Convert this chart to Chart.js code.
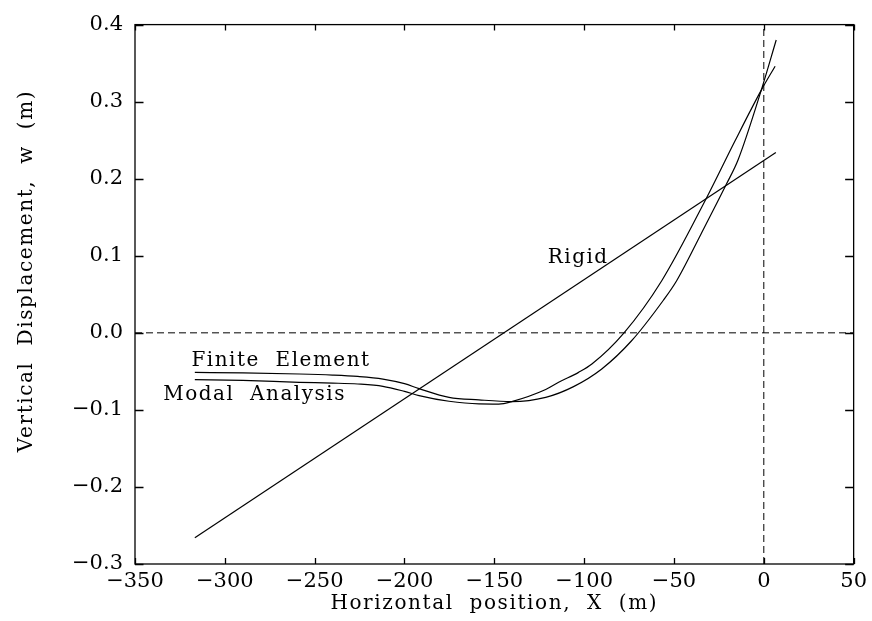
<!DOCTYPE html>
<html>
<head>
<meta charset="utf-8">
<script src="https://cdn.jsdelivr.net/npm/chart.js@4/dist/chart.umd.min.js"></script>
<style>
  html, body { margin: 0; padding: 0; background: #fff; }
  #wrap { width: 872px; height: 621px; position: relative; }
</style>
</head>
<body>
<div id="wrap"><canvas id="c"></canvas></div>
<script>
// ---- Data ----
const feX = [-316.7, -290, -258.5, -240, -226, -212, -200, -191.9, -175.2, -158.6, -140.3, -121.4, -105.9, -90.2, -73.6, -55.9, -48.6, -35, -20.8, -14.3, -1.4, 6.9];
const feY = [-0.0513, -0.0520, -0.0534, -0.0548, -0.0566, -0.0600, -0.0660, -0.0724, -0.0837, -0.0870, -0.0892, -0.0837, -0.0698, -0.0469, -0.0103, 0.0423, 0.0673, 0.128, 0.193, 0.2246, 0.315, 0.380];

const modalX = [-316.7, -290, -258.5, -240, -226, -212, -200, -191.9, -175.2, -158.6, -147.5, -140.3, -121.4, -114.2, -103.1, -95.7, -77.8, -56.9, -31.9, -16.2, -1.4, 6.3];
const modalY = [-0.0608, -0.0618, -0.0642, -0.0652, -0.0664, -0.0694, -0.0760, -0.0814, -0.0888, -0.0922, -0.0924, -0.0892, -0.0735, -0.0642, -0.0513, -0.0405, 0.0, 0.0673, 0.175, 0.2483, 0.315, 0.346];

const rigidX = [-316.7, 6.7];
const rigidY = [-0.266, 0.234];

const zeroLineX = [-350, 50];
const zeroLineY = [0, 0];
const originLineX = [0, 0];
const originLineY = [-0.3, 0.4];

const xTicks = [-350, -300, -250, -200, -150, -100, -50, 0, 50];
const yTicks = [-0.3, -0.2, -0.1, 0.0, 0.1, 0.2, 0.3, 0.4];

const labelTexts = ['Finite  Element', 'Modal  Analysis', 'Rigid'];
const labelX = [-318.6, -334.3, -120.3];
const labelY = [-0.0427, -0.0866, 0.0905];

const xTitle = 'Horizontal  position,  X  (m)';
const yTitle = 'Vertical  Displacement,  w  (m)';

function pts(xs, ys) { return xs.map((x, i) => ({ x: x, y: ys[i] })); }
function fmtX(v) { return v < 0 ? '\u2212' + Math.abs(v) : String(v); }
function fmtY(v) {
  if (Math.abs(v) < 1e-9) return '0.0';
  return v < 0 ? '\u2212' + Math.abs(v).toFixed(1) : v.toFixed(1);
}

const FONT = '"DejaVu Serif", "Liberation Serif", serif';

const framePlugin = {
  id: 'frame',
  afterDraw(chart) {
    const ctx = chart.ctx;
    const a = chart.chartArea;
    const xs = chart.scales.x, ys = chart.scales.y;
    ctx.save();
    ctx.strokeStyle = '#000';
    ctx.lineWidth = 1.3;
    ctx.strokeRect(a.left, a.top, a.right - a.left, a.bottom - a.top);
    // inward ticks on all four sides
    ctx.beginPath();
    xTicks.forEach(v => {
      const px = Math.round(xs.getPixelForValue(v)) + 0.5;
      ctx.moveTo(px, a.bottom); ctx.lineTo(px, a.bottom - 6);
      ctx.moveTo(px, a.top); ctx.lineTo(px, a.top + 6);
    });
    yTicks.forEach(v => {
      const py = Math.round(ys.getPixelForValue(v)) + 0.5;
      ctx.moveTo(a.left, py); ctx.lineTo(a.left + 8.5, py);
      ctx.moveTo(a.right, py); ctx.lineTo(a.right - 8.5, py);
    });
    ctx.stroke();

    // in-plot labels
    ctx.fillStyle = '#000';
    ctx.font = '20px ' + FONT;
    ctx.letterSpacing = '1.5px';
    ctx.textAlign = 'left';
    ctx.textBaseline = 'alphabetic';
    labelTexts.forEach((t, i) => {
      ctx.fillText(t, xs.getPixelForValue(labelX[i]), ys.getPixelForValue(labelY[i]));
    });

    // axis titles
    ctx.letterSpacing = '1.6px';
    ctx.textAlign = 'center';
    ctx.textBaseline = 'middle';
    ctx.fillText(xTitle, (a.left + a.right) / 2, 604);
    ctx.translate(27, 271);
    ctx.rotate(-Math.PI / 2);
    ctx.fillText(yTitle, 0, 0);
    ctx.restore();
  }
};

const lineStyle = { borderColor: '#000', borderWidth: 1.2, pointRadius: 0, showLine: true, fill: false };

new Chart(document.getElementById('c'), {
  type: 'scatter',
  data: {
    datasets: [
      Object.assign({ label: 'Finite Element', data: pts(feX, feY), cubicInterpolationMode: 'monotone' }, lineStyle),
      Object.assign({ label: 'Modal Analysis', data: pts(modalX, modalY), cubicInterpolationMode: 'monotone' }, lineStyle),
      Object.assign({ label: 'Rigid', data: pts(rigidX, rigidY) }, lineStyle),
      Object.assign({ label: 'w = 0', data: pts(zeroLineX, zeroLineY), borderDash: [7, 4] }, lineStyle, { borderWidth: 1 }),
      Object.assign({ label: 'X = 0', data: pts(originLineX, originLineY), borderDash: [7, 4] }, lineStyle, { borderWidth: 1 })
    ]
  },
  options: {
    responsive: true,
    maintainAspectRatio: false,
    animation: false,
    layout: { padding: { left: 0, top: 23, right: 16, bottom: 0 } },
    plugins: { legend: { display: false }, tooltip: { enabled: false } },
    scales: {
      x: {
        type: 'linear', min: -350, max: 50,
        afterBuildTicks(s) { s.ticks = xTicks.map(v => ({ value: v })); },
        afterFit(s) { s.height = 57; },
        ticks: { callback: fmtX, color: '#000', font: { family: FONT, size: 21 }, padding: 5, maxRotation: 0, autoSkip: false },
        grid: { display: false, drawTicks: false },
        border: { display: false }
      },
      y: {
        type: 'linear', min: -0.3, max: 0.4,
        afterBuildTicks(s) { s.ticks = yTicks.map(v => ({ value: v })); },
        afterFit(s) { s.width = 135; },
        ticks: { callback: fmtY, color: '#000', font: { family: FONT, size: 21 }, padding: 12, autoSkip: false },
        grid: { display: false, drawTicks: false },
        border: { display: false }
      }
    }
  },
  plugins: [framePlugin]
});
</script>
</body>
</html>
